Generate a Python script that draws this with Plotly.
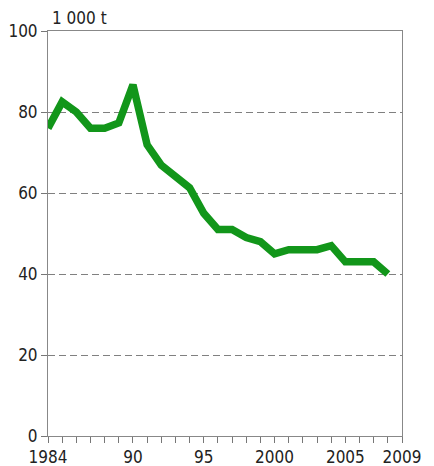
import plotly.graph_objects as go

years = list(range(1984, 2009))
values = [76, 82.5, 80, 76, 76, 77.3, 86.7, 71.9, 66.9, 64, 61.3, 55, 51, 51, 49, 48,
          45, 46, 46, 46, 47, 43, 43, 43, 40]
tick_years = list(range(1984, 2010))
label_map = {1984: "1984", 1990: "90", 1995: "95", 2000: "2000", 2005: "2005", 2009: "2009"}
tick_text = [label_map.get(y, "") for y in tick_years]
y_ticks = [0, 20, 40, 60, 80, 100]
unit_label = "1 000 t"

FONT = "Liberation Sans Narrow, DejaVu Sans Condensed, Liberation Sans, Arial, sans-serif"

fig = go.Figure()
fig.add_trace(go.Scatter(x=years, y=values, mode="lines",
                         line=dict(color="#12961a", width=7.5), hoverinfo="skip"))

fig.update_layout(
    width=426, height=458,
    margin=dict(l=40, r=32, t=23, b=30),
    paper_bgcolor="white", plot_bgcolor="white",
    showlegend=False,
    font=dict(family=FONT, size=17, color="#222"),
    xaxis=dict(range=[1984, 2009], tickvals=tick_years, ticktext=tick_text,
               ticks="outside", ticklen=6, tickcolor="#777", tickwidth=1,
               showline=True, linecolor="#888", linewidth=1, mirror=True,
               showgrid=False, zeroline=False, tickangle=0, automargin=False,
               tickfont=dict(family=FONT, size=17, color="#222")),
    yaxis=dict(range=[0, 100], tickvals=y_ticks,
               ticks="outside", ticklen=6, tickcolor="#777", tickwidth=1,
               showline=True, linecolor="#888", linewidth=1, mirror=True,
               showgrid=True, gridcolor="#808080", griddash="7px,4px", gridwidth=1,
               zeroline=False, automargin=False,
               tickfont=dict(family=FONT, size=17, color="#222")),
    annotations=[dict(text=unit_label, x=0, y=1, xref="paper", yref="paper",
                      xanchor="left", yanchor="bottom", yshift=1, xshift=2,
                      showarrow=False, font=dict(family=FONT, size=17, color="#222"))],
)

fig.write_html("out.html")
